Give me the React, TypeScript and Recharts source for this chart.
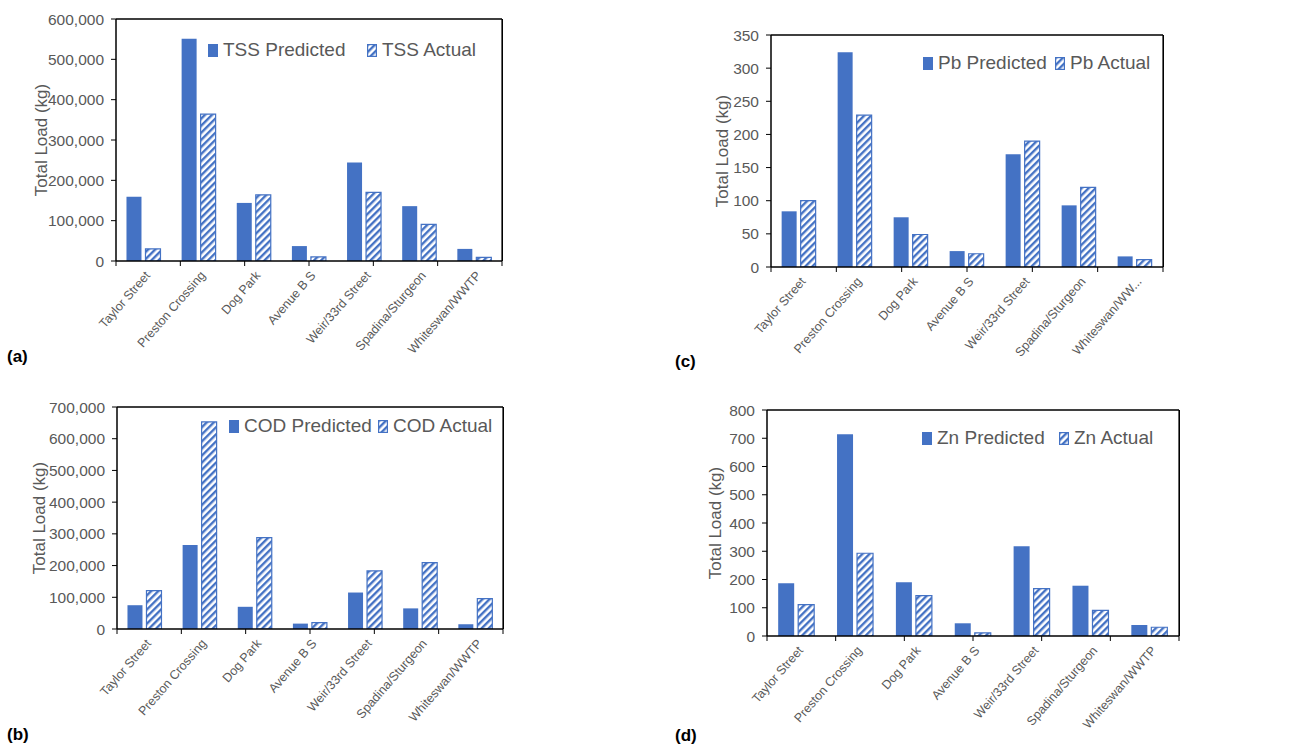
import React from "react"
import { Bar, BarChart, CartesianGrid, ReferenceLine, XAxis, YAxis } from "recharts"

const sites = [
  "Taylor Street",
  "Preston Crossing",
  "Dog Park",
  "Avenue B S",
  "Weir/33rd Street",
  "Spadina/Sturgeon",
  "Whiteswan/WWTP",
]
const sitesPb = [...sites.slice(0, 6), "Whiteswan/WW..."]

const tssPredicted = [159000, 551000, 144000, 37000, 244000, 136000, 30000]
const tssActual = [30000, 364000, 164000, 10000, 170000, 91000, 9000]
const codPredicted = [75000, 265000, 70000, 17000, 115000, 65000, 15000]
const codActual = [121000, 653000, 288000, 20000, 183000, 209000, 96000]
const pbPredicted = [84, 324, 75, 24, 170, 93, 16]
const pbActual = [100, 229, 49, 20, 190, 120, 11]
const znPredicted = [187, 714, 190, 45, 318, 178, 39]
const znActual = [111, 293, 143, 11, 168, 91, 31]

const tssTicks = [0, 100000, 200000, 300000, 400000, 500000, 600000]
const codTicks = [0, 100000, 200000, 300000, 400000, 500000, 600000, 700000]
const pbTicks = [0, 50, 100, 150, 200, 250, 300, 350]
const znTicks = [0, 100, 200, 300, 400, 500, 600, 700, 800]

const BLUE = "#4472C4"
const GREY = "#595959"
const FONT = "'Liberation Sans', Arial, sans-serif"
const BOTTOM_AXES = 106 // boundary-tick axis (6) + label axis (100)

function Hatch({ id }: { id: string }) {
  return (
    <pattern id={id} width={5} height={5} patternUnits="userSpaceOnUse" patternTransform="rotate(45)">
      <rect width={5} height={5} fill="#fff" />
      <rect width={2.4} height={5} fill={BLUE} />
    </pattern>
  )
}

function XTick(props: any) {
  const { x, y, payload } = props
  return (
    <g transform={`translate(${x + 4},${y + 2})`}>
      <text x={0} y={0} dy="0.35em" textAnchor="end" fill={GREY} fontSize={12.5} transform="rotate(-49)">
        {payload.value}
      </text>
    </g>
  )
}

interface PanelProps {
  id: string
  labels: string[]
  predicted: number[]
  actual: number[]
  name: string
  ticks: number[]
  left: number
  top: number
  width: number
  height: number
  margin: { top: number; right: number; bottom: number }
  yWidth: number
  legendX: number
  legendY: number
  legendGap: number
  titleX: number
  titleY: number
  tag: string
  tagX: number
  tagY: number
}

function Panel(p: PanelProps) {
  const rows = p.labels.map((site, i) => ({ site, predicted: p.predicted[i], actual: p.actual[i] }))
  const yMax = p.ticks[p.ticks.length - 1]
  const hatchId = `hatch-${p.id}`
  const plotH = p.height - p.margin.top - p.margin.bottom - BOTTOM_AXES
  return (
    <>
      <div style={{ position: "absolute", left: p.left, top: p.top }}>
        <BarChart
          width={p.width}
          height={p.height}
          data={rows}
          margin={{ top: p.margin.top, right: p.margin.right, bottom: p.margin.bottom, left: 0 }}
          barCategoryGap="19%"
          barGap={4}
        >
          <defs>
            <Hatch id={hatchId} />
          </defs>
          <CartesianGrid
            stroke="#000"
            strokeWidth={1.2}
            horizontalCoordinatesGenerator={({ offset }: any) => [offset.top]}
            verticalCoordinatesGenerator={({ offset }: any) => [offset.left + offset.width]}
          />
          <XAxis
            xAxisId={0}
            type="number"
            domain={[0, 7]}
            ticks={[0, 1, 2, 3, 4, 5, 6, 7]}
            interval={0}
            height={6}
            tickSize={5}
            tickLine={{ stroke: "#000" }}
            axisLine={{ stroke: "#000", strokeWidth: 1.5 }}
            tickFormatter={() => ""}
            allowDataOverflow
          />
          <XAxis
            xAxisId={1}
            dataKey="site"
            height={100}
            axisLine={false}
            tickLine={false}
            tickSize={0}
            tickMargin={4}
            interval={0}
            tick={<XTick />}
          />
          <YAxis
            type="number"
            domain={[0, yMax]}
            ticks={p.ticks}
            interval={0}
            width={p.yWidth}
            tickSize={5}
            tickMargin={7}
            tick={{ fill: GREY, fontSize: 15.5 }}
            tickLine={{ stroke: "#000" }}
            axisLine={{ stroke: "#000", strokeWidth: 1.5 }}
            tickFormatter={(v: number) => v.toLocaleString("en-US")}
            allowDataOverflow
          />
          <ReferenceLine xAxisId={0} y={yMax} stroke="#000" strokeWidth={1.2} ifOverflow="visible" />
          <Bar xAxisId={1} dataKey="predicted" fill={BLUE} isAnimationActive={false} />
          <Bar
            xAxisId={1}
            dataKey="actual"
            fill={`url(#${hatchId})`}
            stroke={BLUE}
            strokeWidth={1.2}
            isAnimationActive={false}
          />
        </BarChart>
      </div>
      {/* right edge of the plot box */}
      <div
        style={{
          position: "absolute",
          left: p.left + p.width - p.margin.right - 0.5,
          top: p.top + p.margin.top,
          width: 1,
          height: plotH,
          background: "#000",
        }}
      />
      <div
        style={{
          position: "absolute",
          left: p.legendX,
          top: p.legendY - 12,
          height: 24,
          fontSize: 19,
          color: GREY,
          whiteSpace: "nowrap",
        }}
      >
        <div style={{ position: "absolute", left: 0, top: 0, display: "flex", alignItems: "center", height: 24 }}>
          <span style={{ display: "inline-block", width: 10, height: 13, background: BLUE, marginRight: 5 }} />
          <span>{p.name} Predicted</span>
        </div>
        <div
          style={{ position: "absolute", left: p.legendGap, top: 0, display: "flex", alignItems: "center", height: 24 }}
        >
          <svg width={10} height={13} style={{ marginRight: 5 }}>
            <defs>
              <Hatch id={`${hatchId}-key`} />
            </defs>
            <rect x={0.6} y={0.6} width={8.8} height={11.8} fill={`url(#${hatchId}-key)`} stroke={BLUE} strokeWidth={1.2} />
          </svg>
          <span>{p.name} Actual</span>
        </div>
      </div>
      <div
        style={{
          position: "absolute",
          left: p.titleX,
          top: p.titleY,
          transform: "translate(-50%, -50%) rotate(-90deg)",
          fontSize: 17,
          color: GREY,
          whiteSpace: "nowrap",
        }}
      >
        Total Load (kg)
      </div>
      <div
        style={{
          position: "absolute",
          left: p.tagX,
          top: p.tagY - 10,
          fontSize: 17,
          fontWeight: "bold",
          color: "#000",
        }}
      >
        {p.tag}
      </div>
    </>
  )
}

export default function App() {
  return (
    <div
      style={{
        position: "absolute",
        left: 0,
        top: 0,
        width: 1311,
        height: 748,
        background: "#fff",
        fontFamily: FONT,
        overflow: "hidden",
      }}
    >
      <Panel
        id="tss"
        labels={sites}
        predicted={tssPredicted}
        actual={tssActual}
        name="TSS"
        ticks={tssTicks}
        left={0}
        top={0}
        width={520}
        height={380}
        margin={{ top: 19, right: 18, bottom: 13 }}
        yWidth={116}
        legendX={208}
        legendY={50}
        legendGap={159}
        titleX={42}
        titleY={140}
        tag="(a)"
        tagX={7}
        tagY={357}
      />
      <Panel
        id="cod"
        labels={sites}
        predicted={codPredicted}
        actual={codActual}
        name="COD"
        ticks={codTicks}
        left={0}
        top={380}
        width={520}
        height={368}
        margin={{ top: 27, right: 17, bottom: 13 }}
        yWidth={117}
        legendX={229}
        legendY={426}
        legendGap={149}
        titleX={40}
        titleY={518}
        tag="(b)"
        tagX={7}
        tagY={735}
      />
      <Panel
        id="pb"
        labels={sitesPb}
        predicted={pbPredicted}
        actual={pbActual}
        name="Pb"
        ticks={pbTicks}
        left={660}
        top={0}
        width={520}
        height={380}
        margin={{ top: 35, right: 17, bottom: 7 }}
        yWidth={111}
        legendX={923}
        legendY={63}
        legendGap={132}
        titleX={723}
        titleY={151}
        tag="(c)"
        tagX={675}
        tagY={362}
      />
      <Panel
        id="zn"
        labels={sites}
        predicted={znPredicted}
        actual={znActual}
        name="Zn"
        ticks={znTicks}
        left={660}
        top={380}
        width={540}
        height={368}
        margin={{ top: 30, right: 21, bottom: 6 }}
        yWidth={107}
        legendX={922}
        legendY={438}
        legendGap={137}
        titleX={716}
        titleY={523}
        tag="(d)"
        tagX={675}
        tagY={736}
      />
    </div>
  )
}
